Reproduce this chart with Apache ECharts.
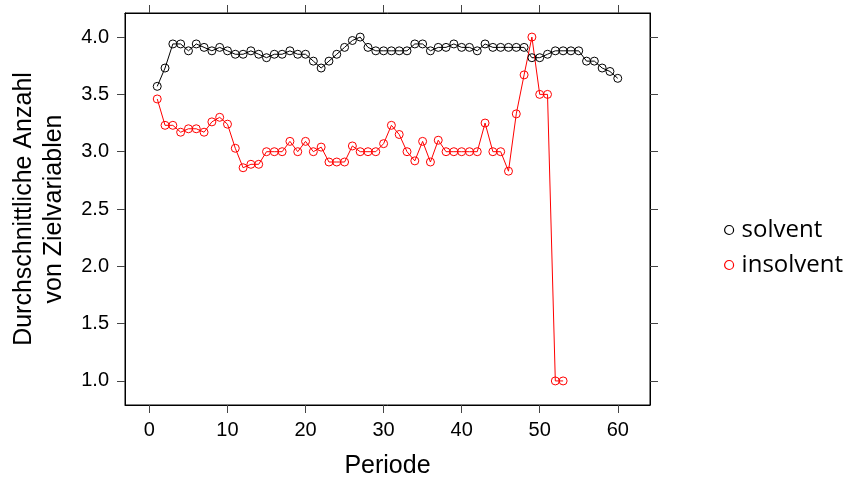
<!DOCTYPE html>
<html><head><meta charset="utf-8">
<script src="https://cdn.jsdelivr.net/npm/echarts@6/dist/echarts.min.js"></script>
<style>html,body{margin:0;padding:0;background:#fff}#c{width:851px;height:477px}</style>
</head><body><div id="c"></div>
<script>
const periods = Array.from({length: 60}, (_, i) => i + 1);
const solvent = [3.57,3.73,3.94,3.94,3.88,3.94,3.91,3.88,3.91,3.88,
  3.85,3.85,3.88,3.85,3.82,3.85,3.85,3.88,3.85,3.85,
  3.79,3.73,3.79,3.85,3.91,3.97,4.00,3.91,3.88,3.88,
  3.88,3.88,3.88,3.94,3.94,3.88,3.91,3.91,3.94,3.91,
  3.91,3.88,3.94,3.91,3.91,3.91,3.91,3.91,3.82,3.82,
  3.85,3.88,3.88,3.88,3.88,3.79,3.79,3.73,3.70,3.64];
const insolvent = [3.46,3.23,3.23,3.17,3.20,3.20,3.17,3.26,3.30,3.24,
  3.03,2.86,2.89,2.89,3.00,3.00,3.00,3.09,3.00,3.09,
  3.00,3.04,2.91,2.91,2.91,3.05,3.00,3.00,3.00,3.07,
  3.23,3.15,3.00,2.92,3.09,2.91,3.10,3.00,3.00,3.00,
  3.00,3.00,3.25,3.00,3.00,2.83,3.33,3.67,4.00,3.50,
  3.50,1.00,1.00];
const xTicks = [0,10,20,30,40,50,60];
const yTicks = [1.0,1.5,2.0,2.5,3.0,3.5,4.0];
const seriesNames = ['solvent','insolvent'];
const seriesColors = ['#000000','#ff0000'];
const xTitle = 'Periode';
const yTitle = 'Durchschnittliche Anzahl\nvon Zielvariablen';

const chart = echarts.init(document.getElementById('c'), null, {renderer:'canvas'});
const font = 'Liberation Sans';
const tickStyle = {show:true,inside:false,length:8,lineStyle:{color:'#444',width:1}};
const datasets = [solvent, insolvent];
chart.setOption({
  animation:false,
  backgroundColor:'#fff',
  grid:[{left:125,right:201,top:13,bottom:72,show:true,borderColor:'#000',borderWidth:1,
    backgroundColor:'transparent',containLabel:false,outerBoundsMode:'none'}],
  legend:{
    orient:'vertical', left:719, top:213, itemGap:11,
    icon:'circle', itemWidth:9, itemHeight:9,
    textStyle:{fontFamily:'Open Sans',fontSize:24,color:'#000',padding:[0,0,0,3]},
    data: seriesNames.map((n,i)=>({name:n,itemStyle:{color:'transparent',borderColor:seriesColors[i],borderWidth:1.2}}))
  },
  xAxis:[
    {type:'value',position:'bottom',min:-3.13,max:64.13,
      name:xTitle,nameLocation:'middle',nameGap:49,
      nameTextStyle:{fontFamily:font,fontSize:25,color:'#000'},
      axisLine:{show:true,onZero:false,lineStyle:{color:'#000'}},
      axisLabel:{show:true,fontFamily:font,fontSize:20,color:'#000',margin:15,
        customValues:xTicks,formatter:v=>String(v)},
      axisTick:Object.assign({customValues:xTicks},tickStyle),
      splitLine:{show:false}},
    {type:'value',position:'top',min:-3.13,max:64.13,
      axisLine:{show:true,onZero:false,lineStyle:{color:'#000'}},
      axisLabel:{show:false},
      axisTick:Object.assign({customValues:xTicks},tickStyle),
      splitLine:{show:false}}
  ],
  yAxis:[
    {type:'value',position:'left',min:0.79,max:4.21,
      name:yTitle,nameLocation:'middle',nameGap:56,nameRotate:90,
      nameTextStyle:{fontFamily:font,fontSize:25,color:'#000',lineHeight:30},
      axisLine:{show:true,onZero:false,lineStyle:{color:'#000'}},
      axisLabel:{show:true,fontFamily:font,fontSize:20,color:'#000',margin:16,
        customValues:yTicks,formatter:v=>v.toFixed(1)},
      axisTick:Object.assign({customValues:yTicks},tickStyle),
      splitLine:{show:false}},
    {type:'value',position:'right',min:0.79,max:4.21,
      axisLine:{show:true,onZero:false,lineStyle:{color:'#000'}},
      axisLabel:{show:false},
      axisTick:Object.assign({customValues:yTicks},tickStyle),
      splitLine:{show:false}}
  ],
  series: datasets.map((d,i)=>({
    name:seriesNames[i], type:'line', xAxisIndex:0, yAxisIndex:0,
    data:d.map((v,j)=>[periods[j],v]),
    symbol:'circle', symbolSize:8,
    lineStyle:{color:seriesColors[i],width:1},
    itemStyle:{color:'transparent',borderColor:seriesColors[i],borderWidth:1},
    emphasis:{disabled:true}
  }))
});
</script></body></html>
